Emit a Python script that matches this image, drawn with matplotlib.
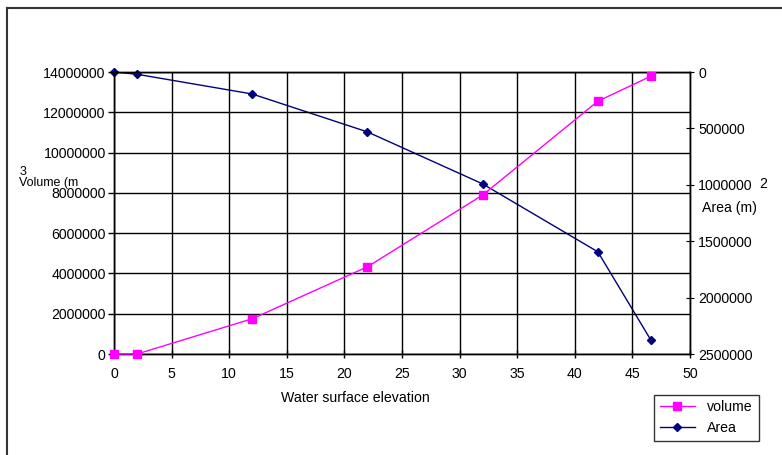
import matplotlib.pyplot as plt
from matplotlib.lines import Line2D
from matplotlib.ticker import FuncFormatter

plt.rcParams['font.family'] = ['Liberation Sans', 'DejaVu Sans']

# Data
elevation = [0, 2, 12, 22, 32, 42, 46.6]
volume = [0, 0, 1750000, 4330000, 7890000, 12550000, 13790000]
area = [0, 20000, 195000, 531000, 992000, 1594000, 2376000]

W, H = 782, 455
fs = 10.2
fig = plt.figure(figsize=(W / 100, H / 100), dpi=100)

# axes box in pixels: left 114, right 690, top 72, bottom 354
ax = fig.add_axes([114 / W, 1 - 354 / H, (690 - 114) / W, (354 - 72) / H])
ax2 = ax.twinx()

ax.plot(elevation, volume, color='#ff00ff', marker='s', markersize=6,
        linewidth=1, label='volume', zorder=3, clip_on=False)
ax2.plot(elevation, area, color='#000080', marker='D', markersize=4,
         linewidth=1, label='Area', zorder=3, clip_on=False)

plain = FuncFormatter(lambda v, p: '%d' % v)

ax.set_xlim(0, 50)
ax.set_ylim(0, 14000000)
ax.set_xticks(range(0, 51, 5))
ax.set_yticks(range(0, 14000001, 2000000))
ax.yaxis.set_major_formatter(plain)
ax.grid(True, color='black', linewidth=1)
ax.tick_params(labelsize=fs, length=4, width=1, color='black', pad=2)
ax.tick_params(axis='x', direction='inout', length=6, pad=6)
ax.tick_params(axis='y', direction='out')

ax2.set_ylim(2500000, 0)
ax2.set_yticks(range(0, 2500001, 500000))
ax2.yaxis.set_major_formatter(plain)
ax2.tick_params(labelsize=fs, length=6, direction='inout', pad=3)

for a in (ax, ax2):
    for s in a.spines.values():
        s.set_linewidth(1)
        s.set_color('black')

ax.set_zorder(ax2.get_zorder() + 1)
ax.patch.set_visible(False)

fig.text(355 / W, 1 - 398 / H, 'Water surface elevation', fontsize=fs,
         ha='center', va='center')
# broken superscript axis titles, as in the original
fig.text(19 / W, 1 - 183 / H, 'Volume (m', fontsize=9, ha='left', va='center')
fig.text(20 / W, 1 - 172 / H, '3', fontsize=9, ha='left', va='center')
fig.text(702 / W, 1 - 208 / H, 'Area (m)', fontsize=fs, ha='left', va='center')
fig.text(759 / W, 1 - 184 / H, '2', fontsize=fs, ha='left', va='center')

# legend
h1, l1 = ax.get_legend_handles_labels()
h2, l2 = ax2.get_legend_handles_labels()
leg = fig.legend(h1 + h2, l1 + l2, loc='lower left',
                 bbox_to_anchor=(647 / W, 1 - 448 / H, (766 - 647) / W, (448 - 398) / H),
                 mode='expand', fontsize=fs, frameon=True, fancybox=False,
                 edgecolor='black', borderpad=0.4, handlelength=2.5,
                 labelspacing=0.5)
leg.get_frame().set_linewidth(1)

# chart area border (left and top edges)
fig.add_artist(Line2D([7 / W, 7 / W], [0, 1 - 8 / H], color='#333333',
                      linewidth=1.5, transform=fig.transFigure))
fig.add_artist(Line2D([7 / W, 1], [1 - 8 / H, 1 - 8 / H], color='#333333',
                      linewidth=1.5, transform=fig.transFigure))

fig.savefig('out.png', dpi=100)
